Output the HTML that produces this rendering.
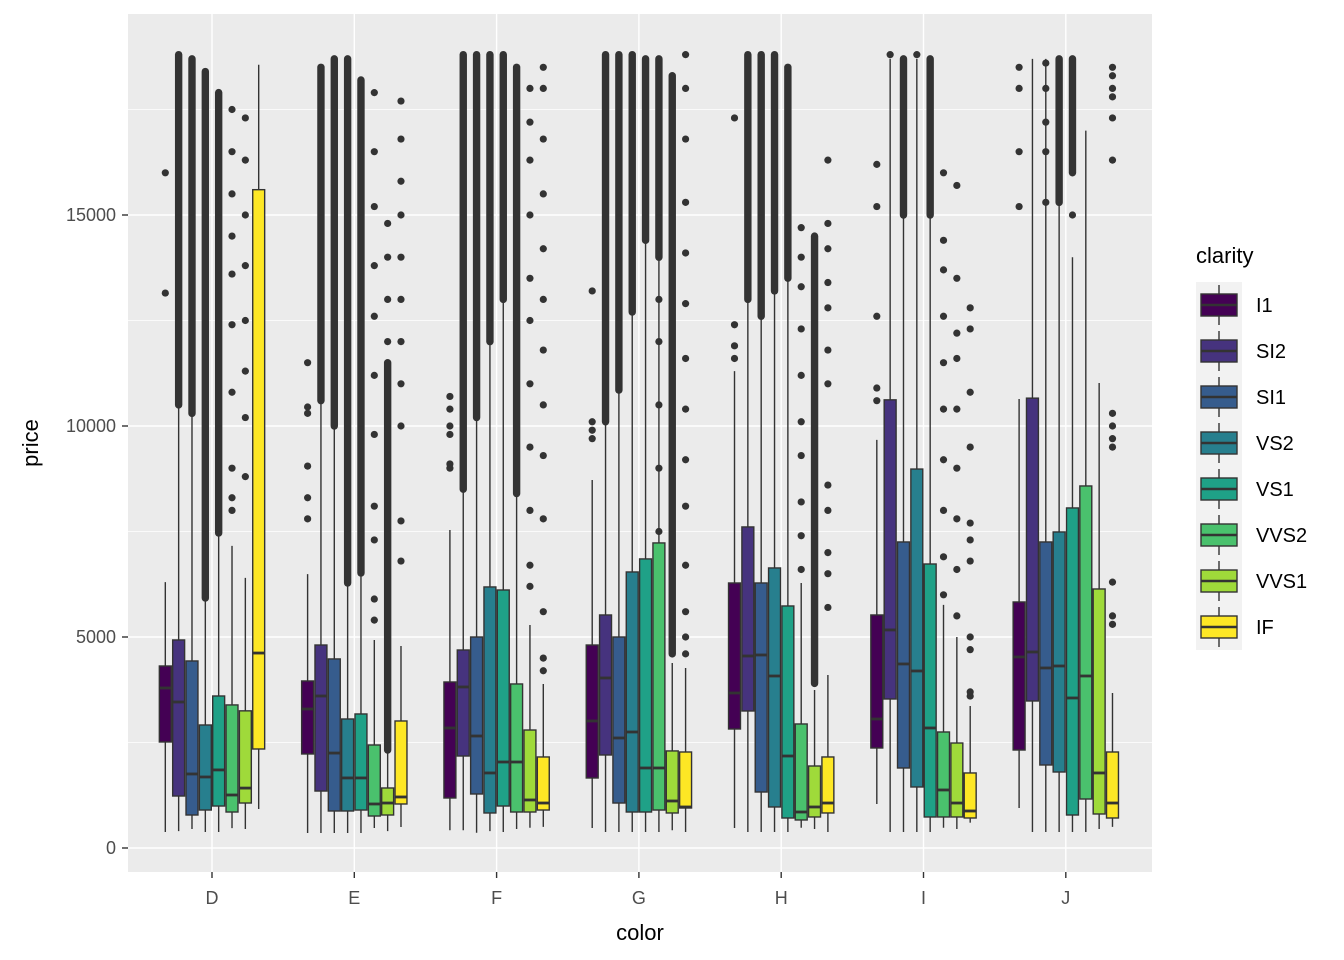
<!DOCTYPE html>
<html><head><meta charset="utf-8"><style>
body{margin:0;background:#fff;}
svg{display:block;font-family:"Liberation Sans",Arial,sans-serif;}
</style></head><body>
<svg id="chart" width="1344" height="960" viewBox="0 0 1344 960" xmlns="http://www.w3.org/2000/svg">
<rect x="0" y="0" width="1344" height="960" fill="#fff"/>
<rect x="128" y="14" width="1024" height="858" fill="#EBEBEB"/>
<g id="grid"></g><g id="marks"></g><g id="axes"></g><g id="legend"></g>
</svg>
<script>
const colors = ["D","E","F","G","H","I","J"];
const clarities = ["I1","SI2","SI1","VS2","VS1","VVS2","VVS1","IF"];
const yTicks = [0,5000,10000,15000];
const yMinor = [2500,7500,12500,17500];
// [low, q1, median, q3, high] per color, per clarity
const statsD = [[379,2512,3792,4313,6300],[400,1232,3460,4930,10500],[450,782,1754,4432,10300],[380,900,1683,2915,5925],[380,995,1850,3602,7465],[470,853,1256,3390,7160],[450,1066,1420,3250,6400],[925,2346,4620,15600,18560]];
const statsE = [[355,2228,3294,3958,6490],[355,1350,3602,4810,10600],[355,877,2250,4480,10000],[355,877,1660,3057,6280],[355,900,1660,3176,6517],[474,758,1043,2441,4930],[400,782,1066,1422,2322],[498,1043,1209,3010,4787]];
const statsF = [[420,1185,2844,3934,7537],[420,2180,3816,4692,8500],[360,1280,2654,5000,10200],[400,830,1778,6186,12000],[380,995,2038,6114,13000],[450,853,2038,3887,8400],[480,853,1138,2796,5285],[500,900,1066,2157,3887]];
const statsG = [[474,1659,3010,4810,8720],[380,2204,4029,5522,10100],[380,1066,2607,5000,10850],[380,853,2749,6541,12700],[380,853,1896,6850,14400],[380,900,1896,7229,14000],[420,830,1114,2300,4385],[380,948,972,2275,4266]];
const statsH = [[474,2820,3673,6280,11300],[380,3247,4550,7608,13000],[380,1327,4574,6280,12600],[380,972,4076,6636,13200],[380,711,2180,5735,13500],[480,664,853,2939,6280],[450,735,972,1943,3745],[380,830,1066,2157,4100]];
const statsI = [[1043,2370,3057,5522,9670],[380,3531,5167,10620,18700],[380,1896,4361,7252,15000],[380,1446,4195,8980,18700],[380,735,2844,6730,15000],[480,735,1375,2749,5760],[450,735,1066,2488,5000],[600,711,877,1778,3365]];
const statsJ = [[948,2322,4527,5830,10640],[380,3484,4645,10660,18700],[380,1967,4266,7252,18700],[380,1801,4313,7489,15300],[380,782,3555,8058,14000],[380,1161,4076,8579,17000],[450,806,1778,6138,11020],[500,711,1066,2275,3673]];
const stats = [statsD,statsE,statsF,statsG,statsH,statsI,statsJ];
// dense outlier ranges [from,to] or null
const denseD = [null,[10500,18800],[10300,18700],[5925,18400],[7465,17900],null,null,null];
const denseE = [null,[10600,18500],[10000,18700],[6280,18700],[6517,18200],null,[2322,11500],null];
const denseF = [null,[8500,18800],[10200,18800],[12000,18800],[13000,18800],[8400,18500],null,null];
const denseG = [null,[10100,18800],[10850,18800],[12700,18800],[14400,18700],[14000,18700],[4600,18300],null];
const denseH = [null,[13000,18800],[12600,18800],[13200,18800],[13500,18500],null,[3900,14500],null];
const denseI = [null,null,[15000,18700],null,[15000,18700],null,null,null];
const denseJ = [null,null,null,[15300,18700],[16000,18700],null,null,null];
const dense = [denseD,denseE,denseF,denseG,denseH,denseI,denseJ];
// sparse outliers
const sparseD = [[13150,16000],[],[],[],[],[8000,8300,9000,10800,12400,13600,14500,15500,16500,17500],[8800,10200,11300,12500,13800,15000,16300,17300],[]];
const sparseE = [[7800,8300,9050,10300,10450,11500],[],[],[],[],[5400,5900,7300,8100,9800,11200,12600,13800,15200,16500,17900],[12000,13000,14000,14800],[6800,7750,10000,11000,12000,13000,14000,15000,15800,16800,17700]];
const sparseF = [[9000,9100,9800,10000,10400,10700],[],[],[],[],[],[6200,6700,8000,9500,11000,12500,13500,15000,16300,17200,18000],[4200,4500,5600,7800,9300,10500,11800,13000,14200,15500,16800,18000,18500]];
const sparseG = [[9700,9900,10100,13200],[],[],[],[],[5000,6000,7500,9000,10500,12000,13000],[],[4600,5000,5600,6700,8100,9200,10400,11600,12900,14100,15300,16800,18000,18800]];
const sparseH = [[11600,11900,12400,17300],[],[],[],[],[6600,7400,8200,9300,10100,11200,12300,13300,14000,14700],[],[5700,6500,7000,8000,8600,11000,11800,12800,13400,14200,14800,16300]];
const sparseI = [[10600,10900,12600,15200,16200],[18800],[],[18800],[],[6000,6900,8000,9200,10400,11500,12600,13700,14400,16000],[5500,6600,7800,9000,10400,11600,12200,13500,15700],[3600,3700,4700,5000,6800,7300,7700,9500,10800,12300,12800]];
const sparseJ = [[15200,16500,18000,18500],[],[15300,16500,17200,18000,18600],[],[15000],[],[],[5300,5500,6300,9500,9700,10000,10300,16300,17300,17800,18000,18300,18500]];
const sparse = [sparseD,sparseE,sparseF,sparseG,sparseH,sparseI,sparseJ];
const fills = ["#440154","#46337E","#365C8D","#277F8E","#1FA187","#4AC16D","#9FDA3A","#FDE725"];

const NS="http://www.w3.org/2000/svg";
const panelL=128,panelR=1152;
const Y=v=>848-v*0.0422;
const step=142.3;
const X=i=>212+step*i;
const slot=step*0.75/clarities.length;
function mk(tag,attrs,parent){const e=document.createElementNS(NS,tag);for(const k in attrs)e.setAttribute(k,attrs[k]);parent.appendChild(e);return e;}
const grid=document.getElementById('grid'),marks=document.getElementById('marks'),axes=document.getElementById('axes'),legend=document.getElementById('legend');
yMinor.forEach(v=>{const l=mk('line',{x1:panelL,x2:panelR,y1:Y(v),y2:Y(v),stroke:'#fff','stroke-width':0.7},grid);

});
yTicks.forEach(v=>{const l=mk('line',{x1:panelL,x2:panelR,y1:Y(v),y2:Y(v),stroke:'#fff','stroke-width':1.4},grid);


mk('line',{x1:122,x2:128,y1:Y(v),y2:Y(v),stroke:'#333','stroke-width':1.4},axes);
const t=mk('text',{x:116,y:Y(v)+6,'text-anchor':'end','font-size':18,fill:'#4D4D4D'},axes);t.textContent=v;

});
colors.forEach((c,i)=>{const l=mk('line',{x1:X(i),x2:X(i),y1:14,y2:872,stroke:'#fff','stroke-width':1.4},grid);


mk('line',{x1:X(i),x2:X(i),y1:872,y2:878,stroke:'#333','stroke-width':1.4},axes);
const t=mk('text',{x:X(i),y:904,'text-anchor':'middle','font-size':18,fill:'#4D4D4D'},axes);t.textContent=c;

});
colors.forEach((c,i)=>{clarities.forEach((cl,j)=>{
 const s=stats[i][j];const cx=X(i)+(j-3.5)*slot;const w=slot;
 const g=mk('g',{},marks);
 
 
 const d=dense[i][j];
 if(d){mk('rect',{x:cx-3.7,y:Y(d[1])-3.7,width:7.4,height:Y(d[0])-Y(d[1])+7.4,rx:3.7,fill:'#333'},g);}
 sparse[i][j].forEach(v=>mk('circle',{cx:cx,cy:Y(v),r:3.6,fill:'#333'},g));
 mk('line',{x1:cx,x2:cx,y1:Y(s[0]),y2:Y(s[4]),stroke:'#333','stroke-width':1.4},g);
 mk('rect',{x:cx-w/2+0.7,y:Y(s[3]),width:w-1.4,height:Y(s[1])-Y(s[3]),fill:fills[j],stroke:'#333','stroke-width':1.4},g);
 mk('line',{x1:cx-w/2+0.7,x2:cx+w/2-0.7,y1:Y(s[2]),y2:Y(s[2]),stroke:'#333','stroke-width':2.8},g);
});});
let t=mk('text',{x:640,y:940,'text-anchor':'middle','font-size':22,fill:'#000'},axes);t.textContent='color';


t=mk('text',{x:38,y:443,'text-anchor':'middle','font-size':22,fill:'#000',transform:'rotate(-90 38 443)'},axes);t.textContent='price';


t=mk('text',{x:1196,y:263,'font-size':22,fill:'#000'},legend);t.textContent='clarity';


clarities.forEach((cl,j)=>{const cy=305+j*46;const g=mk('g',{},legend);
 
 
 mk('rect',{x:1196,y:cy-23,width:46,height:46,fill:'#F2F2F2'},g);
 mk('line',{x1:1219,x2:1219,y1:cy-20,y2:cy+20,stroke:'#333','stroke-width':1.4},g);
 mk('rect',{x:1201,y:cy-11,width:36,height:22,fill:fills[j],stroke:'#333','stroke-width':1.4},g);
 mk('line',{x1:1201,x2:1237,y1:cy,y2:cy,stroke:'#333','stroke-width':2.4},g);
 const tx=mk('text',{x:1256,y:cy+7,'font-size':20,fill:'#000'},g);tx.textContent=cl;});
</script>
</body></html>
